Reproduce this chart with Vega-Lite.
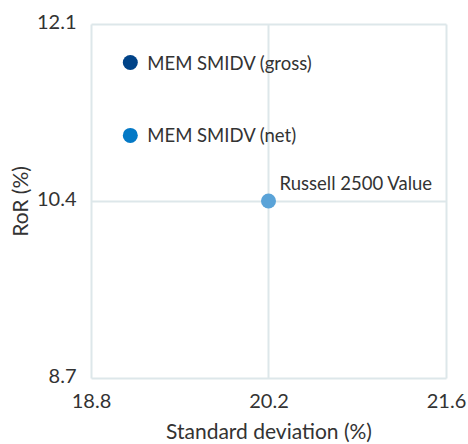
{
  "$schema": "https://vega.github.io/schema/vega-lite/v6.json",
  "width": 355,
  "height": 354,
  "autosize": {"type": "none"},
  "padding": {"left": 91, "top": 24, "right": 22, "bottom": 66},
  "config": {
    "font": "Lato",
    "view": {"stroke": null},
    "axis": {
      "domain": false,
      "ticks": false,
      "gridColor": "#dde7ea",
      "gridWidth": 2,
      "labelFont": "Lato",
      "labelColor": "#333333",
      "titleFont": "Lato",
      "titleFontWeight": "normal",
      "titleColor": "#333333"
    }
  },
  "data": {
    "values": [
      {"name": "MEM SMIDV (gross)", "sd": 19.11, "ror": 11.73, "label": "MEM SMIDV (gross)", "pos": "right"},
      {"name": "MEM SMIDV (net)", "sd": 19.11, "ror": 11.03, "label": "MEM SMIDV (net)", "pos": "right"},
      {"name": "Russell 2500 Value", "sd": 20.2, "ror": 10.4, "label": "Russell 2500 Value", "pos": "above"}
    ]
  },
  "encoding": {
    "x": {
      "field": "sd", "type": "quantitative",
      "scale": {"domain": [18.8, 21.6], "nice": false, "zero": false},
      "axis": {"values": [18.8, 20.2, 21.6], "format": ".1f", "title": "Standard deviation (%)", "titleFontSize": 21, "titleFontWeight": "normal", "labelFontSize": 20, "labelPadding": 13, "titlePadding": 10, "labelFlush": false}
    },
    "y": {
      "field": "ror", "type": "quantitative",
      "scale": {"domain": [8.7, 12.1], "nice": false, "zero": false},
      "axis": {"values": [8.7, 10.4, 12.1], "format": ".1f", "title": "RoR (%)", "titleFontSize": 21, "titleFontWeight": "normal", "labelFontSize": 20, "labelPadding": 15, "titlePadding": 5, "labelFlush": false, "labelBaseline": "middle", "labelOffset": -2}
    }
  },
  "layer": [
    {
      "mark": {"type": "circle", "size": 225, "opacity": 1},
      "encoding": {
        "color": {
          "field": "name", "type": "nominal", "legend": null,
          "scale": {
            "domain": ["MEM SMIDV (gross)", "MEM SMIDV (net)", "Russell 2500 Value"],
            "range": ["#004388", "#0479c6", "#5aa3d8"]
          }
        }
      }
    },
    {
      "transform": [{"filter": "datum.pos == 'right'"}],
      "mark": {"type": "text", "align": "left", "baseline": "middle", "dx": 17, "dy": 1, "fontSize": 18.5, "color": "#333333", "font": "Lato"},
      "encoding": {"text": {"field": "label"}}
    },
    {
      "transform": [{"filter": "datum.pos == 'above'"}],
      "mark": {"type": "text", "align": "left", "baseline": "middle", "dx": 11, "dy": -17, "fontSize": 18.5, "color": "#333333", "font": "Lato"},
      "encoding": {"text": {"field": "label"}}
    }
  ]
}
